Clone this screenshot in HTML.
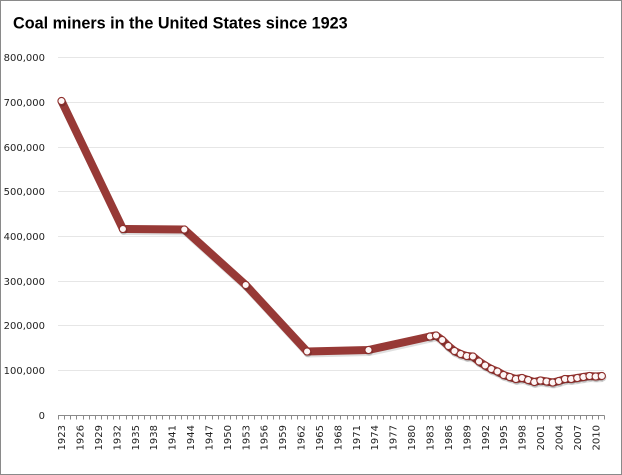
<!DOCTYPE html>
<html>
<head>
<meta charset="utf-8">
<style>
html,body{margin:0;padding:0;background:#fff;}
svg{display:block;}
</style>
</head>
<body>
<svg width="622" height="475" viewBox="0 0 622 475" xmlns="http://www.w3.org/2000/svg">
<rect x="0.5" y="0.5" width="621" height="474" fill="#fff" stroke="#8a8a8a" stroke-width="1"/>
<text x="13" y="28.5" font-family="Liberation Sans, Arial, sans-serif" font-weight="bold" font-size="16.2" fill="#000">Coal miners in the United States since 1923</text>

<!-- gridlines -->
<g stroke="#e6e6e6" stroke-width="1">
<line x1="58" y1="57.5" x2="604" y2="57.5"/>
<line x1="58" y1="102.5" x2="604" y2="102.5"/>
<line x1="58" y1="147.5" x2="604" y2="147.5"/>
<line x1="58" y1="191.5" x2="604" y2="191.5"/>
<line x1="58" y1="236.5" x2="604" y2="236.5"/>
<line x1="58" y1="281.5" x2="604" y2="281.5"/>
<line x1="58" y1="325.5" x2="604" y2="325.5"/>
<line x1="58" y1="370.5" x2="604" y2="370.5"/>
</g>

<!-- y labels -->
<g font-family="DejaVu Sans, Verdana, sans-serif" font-size="10" fill="#222" text-anchor="end">
<text x="45" y="61">800,000</text>
<text x="45" y="106">700,000</text>
<text x="45" y="151">600,000</text>
<text x="45" y="195">500,000</text>
<text x="45" y="240">400,000</text>
<text x="45" y="285">300,000</text>
<text x="45" y="329">200,000</text>
<text x="45" y="374">100,000</text>
<text x="45" y="419">0</text>
</g>

<!-- axis -->
<line x1="58" y1="415.5" x2="604.5" y2="415.5" stroke="#8a8a8a" stroke-width="1"/>
<g id="ticks" stroke="#8a8a8a" stroke-width="1"></g>
<g id="xlabels" font-family="DejaVu Sans, Verdana, sans-serif" font-size="10" fill="#222"></g>

<!-- series -->
<g id="series"></g>

<script>
(function(){
  var ns="http://www.w3.org/2000/svg";
  var x0=61.5, w=6.14;
  function X(yr){return x0+(yr-1923)*w;}
  var ticks=document.getElementById('ticks');
  for(var i=0;i<=89;i++){
    var tx=Math.round(58+i*w)+0.5;
    var l=document.createElementNS(ns,'line');
    l.setAttribute('x1',tx);l.setAttribute('x2',tx);
    l.setAttribute('y1',415.5);l.setAttribute('y2',419.5);
    ticks.appendChild(l);
  }
  var xl=document.getElementById('xlabels');
  for(var yr=1923;yr<=2010;yr+=3){
    var t=document.createElementNS(ns,'text');
    var cx=X(yr)+3.6, cy=425;
    t.setAttribute('x',0);t.setAttribute('y',0);
    t.setAttribute('text-anchor','end');
    t.setAttribute('transform','translate('+cx.toFixed(2)+','+cy+') rotate(-90)');
    t.textContent=yr;
    xl.appendChild(t);
  }
  var data=[[1923,101],[1933,229],[1943,229.5],[1953,285],[1963,351.5],[1973,350],
  [1983,336.5],[1984,335.5],[1985,340],[1986,346],[1987,351],[1988,354],[1989,356],[1990,356.5],
  [1991,361.5],[1992,365.5],[1993,369],[1994,371.5],[1995,375],[1996,377],[1997,379],[1998,378],
  [1999,380],[2000,382],[2001,380.5],[2002,381.5],[2003,382.5],[2004,381],[2005,379],[2006,379],
  [2007,378],[2008,377],[2009,376],[2010,376.5],[2011,376]];
  var s=document.getElementById('series');
  var pts=data.map(function(d){return X(d[0]).toFixed(2)+','+d[1];}).join(' ');
  var sh=document.createElementNS(ns,'polyline');
  sh.setAttribute('points',pts);sh.setAttribute('fill','none');
  sh.setAttribute('stroke','#000');sh.setAttribute('stroke-opacity','0.12');
  sh.setAttribute('stroke-width','8');sh.setAttribute('stroke-linejoin','round');
  sh.setAttribute('transform','translate(1,2)');
  s.appendChild(sh);
  var pl=document.createElementNS(ns,'polyline');
  pl.setAttribute('points',pts);pl.setAttribute('fill','none');
  pl.setAttribute('stroke','#973936');pl.setAttribute('stroke-width','8');
  pl.setAttribute('stroke-linejoin','round');
  s.appendChild(pl);
  data.forEach(function(d){
    var c=document.createElementNS(ns,'circle');
    c.setAttribute('cx',(X(d[0])+0.6).toFixed(2));c.setAttribute('cy',d[1]+1.5);c.setAttribute('r',4);
    c.setAttribute('fill','#000');c.setAttribute('fill-opacity','0.18');
    s.appendChild(c);
  });
  data.forEach(function(d){
    var c=document.createElementNS(ns,'circle');
    c.setAttribute('cx',X(d[0]).toFixed(2));c.setAttribute('cy',d[1]);c.setAttribute('r',3.6);
    c.setAttribute('fill','#fdf6f6');c.setAttribute('stroke','#8e2f2c');c.setAttribute('stroke-width','1.1');
    s.appendChild(c);
  });
})();
</script>
</svg>
</body>
</html>
